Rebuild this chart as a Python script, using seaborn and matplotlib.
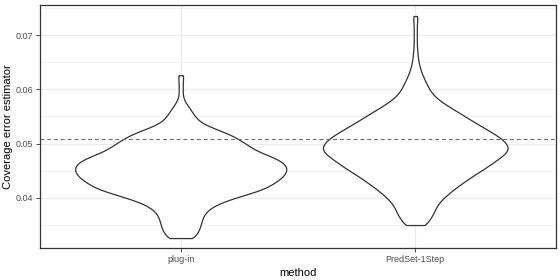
import numpy as np
import pandas as pd
import seaborn as sns
import matplotlib.pyplot as plt
from matplotlib.ticker import MultipleLocator

# values: estimate levels and how many runs sit near each
methods = ["plug-in", "PredSet-1Step"]

plugin_vals = [0.0326, 0.0336, 0.0346, 0.0356, 0.0366, 0.0376, 0.0386, 0.0396,
               0.0406, 0.0416, 0.0426, 0.0436, 0.0446, 0.0456, 0.0466, 0.0476,
               0.0486, 0.0496, 0.0506, 0.0516, 0.0526, 0.0536, 0.0546, 0.0556,
               0.0566, 0.0576, 0.0586, 0.0596, 0.0606, 0.0616, 0.0626]
plugin_counts = [26, 34, 38, 41, 44, 51, 66, 92,
                 128, 164, 182, 198, 208, 210, 202, 180,
                 150, 134, 118, 100, 72, 44, 31, 24,
                 17, 9, 4, 4, 4, 4, 6]

predset_vals = [0.035, 0.036, 0.037, 0.038, 0.039, 0.040, 0.041, 0.042,
                0.043, 0.044, 0.045, 0.046, 0.047, 0.048, 0.049, 0.050,
                0.051, 0.052, 0.053, 0.054, 0.055, 0.056, 0.057, 0.058,
                0.059, 0.060, 0.061, 0.062, 0.063, 0.064, 0.065, 0.066,
                0.067, 0.068, 0.069, 0.070, 0.071, 0.072, 0.073, 0.0735]
predset_counts = [22, 28, 35, 39, 44, 55, 67, 80,
                  96, 110, 128, 144, 158, 174, 185, 178,
                  168, 150, 132, 114, 97, 80, 62, 46,
                  34, 27, 22, 17, 12, 9, 6, 5,
                  4, 3, 3, 3, 3, 3, 3, 4]

target_level = 0.0508

df = pd.DataFrame({
    "method": ["plug-in"] * sum(plugin_counts) + ["PredSet-1Step"] * sum(predset_counts),
    "estimate": np.concatenate([np.repeat(plugin_vals, plugin_counts),
                                np.repeat(predset_vals, predset_counts)]),
})

sns.set_theme(style="white")
plt.rcParams["font.family"] = ["Liberation Sans", "DejaVu Sans"]

fig = plt.figure(figsize=(5.6, 2.8), dpi=100)
ax = fig.add_axes([40 / 560, 32 / 280, 516 / 560, 243 / 280])

sns.violinplot(data=df, x="method", y="estimate", order=methods,
               color="white", saturation=1, linecolor="#333333", linewidth=0.9,
               inner=None, cut=0, bw_method=0.14, density_norm="area",
               width=0.9, gridsize=400, ax=ax)

ax.axhline(target_level, color="#666666", linestyle=(0, (4, 3)), linewidth=0.7, zorder=3)

# ggplot theme_bw look
ax.set_xlim(-0.6, 1.6)
ax.set_ylim(0.03077, 0.07553)
ax.yaxis.set_major_locator(MultipleLocator(0.01))
ax.yaxis.set_minor_locator(MultipleLocator(0.005))
ax.grid(which="major", color="#EBEBEB", linewidth=0.8)
ax.grid(which="minor", axis="y", color="#EBEBEB", linewidth=0.4)
ax.set_axisbelow(True)
for s in ax.spines.values():
    s.set_color("#333333")
    s.set_linewidth(0.9)
ax.tick_params(which="major", bottom=True, left=True, length=3, width=0.6,
               color="#333333", labelsize=6.5, labelcolor="#4D4D4D", pad=2)
ax.tick_params(which="minor", length=0)

ax.set_xlabel("method", fontsize=8, color="black", labelpad=3)
ax.set_ylabel("Coverage error estimator", fontsize=8, color="black", labelpad=2)

fig.savefig("out.png", dpi=100)
